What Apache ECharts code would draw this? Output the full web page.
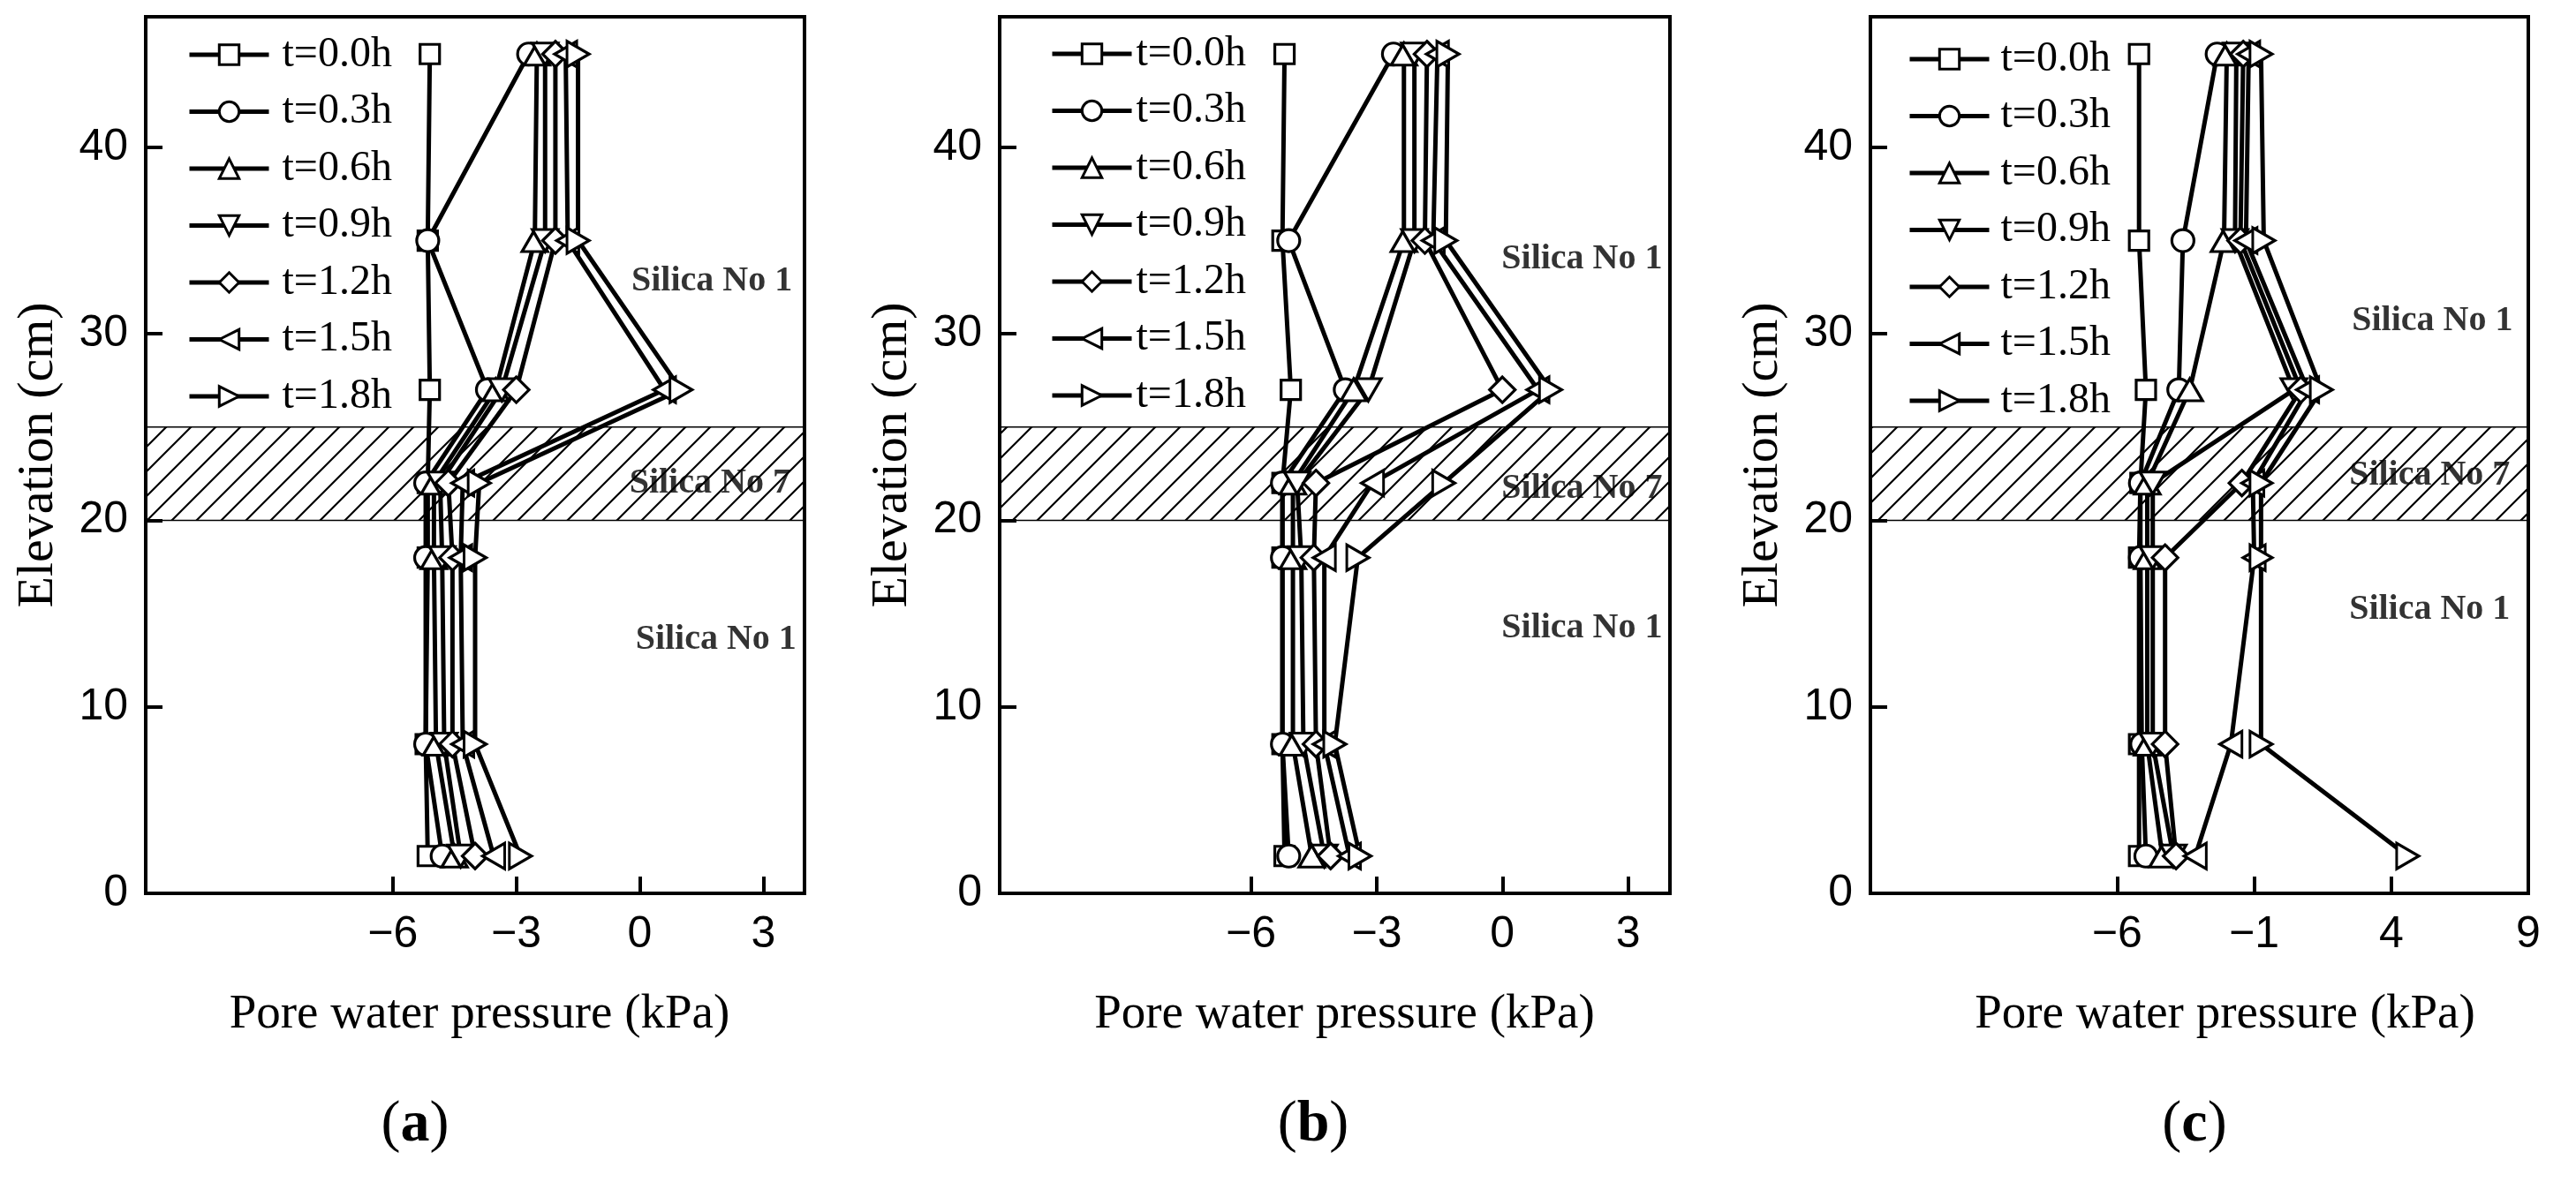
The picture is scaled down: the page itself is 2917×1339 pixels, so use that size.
<!DOCTYPE html>
<html>
<head>
<meta charset="utf-8">
<script src="https://cdn.jsdelivr.net/npm/echarts@6/dist/echarts.min.js"></script>
<style>html,body{margin:0;padding:0;background:#fff}#c{width:2917px;height:1339px}</style>
</head>
<body>
<div id="c"></div>
<script>
// ---------- DATA ----------
const elevations = [45, 35, 27, 22, 18, 8, 2];
const seriesNames = ['t=0.0h', 't=0.3h', 't=0.6h', 't=0.9h', 't=1.2h', 't=1.5h', 't=1.8h'];

// pore water pressure (kPa) at each elevation, one row per time
const pressureA = [
  [-5.1, -5.15, -5.1, -5.15, -5.15, -5.2, -5.15],
  [-2.7, -5.15, -3.7, -5.2, -5.2, -5.2, -4.8],
  [-2.5, -2.55, -3.5, -5.0, -5.0, -4.95, -4.5],
  [-2.3, -2.3, -3.35, -4.85, -4.8, -4.75, -4.35],
  [-2.05, -2.05, -3.0, -4.65, -4.55, -4.55, -4.0],
  [-1.8, -1.75, 0.6, -4.3, -4.35, -4.3, -3.55],
  [-1.5, -1.5, 1.0, -3.9, -4.0, -4.0, -2.9]
];
const pressureB = [
  [-5.2, -5.25, -5.05, -5.25, -5.25, -5.25, -5.2],
  [-2.6, -5.1, -3.75, -5.25, -5.25, -5.25, -5.1],
  [-2.35, -2.35, -3.55, -5.0, -5.0, -5.0, -4.55],
  [-2.1, -2.1, -3.2, -4.9, -4.8, -4.75, -4.25],
  [-1.8, -1.85, 0.0, -4.45, -4.5, -4.45, -4.1],
  [-1.55, -1.65, 0.85, -3.1, -4.25, -4.25, -3.65],
  [-1.3, -1.35, 1.15, -1.4, -3.45, -4.0, -3.4]
];
const pressureC = [
  [-5.2, -5.2, -4.95, -5.15, -5.2, -5.2, -5.2],
  [-2.35, -3.6, -3.75, -5.15, -5.15, -5.1, -4.95],
  [-2.0, -2.1, -3.35, -4.9, -4.9, -4.9, -4.35],
  [-1.65, -1.7, 0.45, -4.7, -4.7, -4.7, -3.95],
  [-1.4, -1.5, 0.7, -1.45, -4.25, -4.25, -3.85],
  [-1.2, -1.3, 0.95, -1.05, -1.0, -1.85, -3.15],
  [-0.75, -0.65, 1.45, -0.75, -0.75, -0.75, 4.6]
];

const xTicksAB = [-6, -3, 0, 3];
const xTicksC = [-6, -1, 4, 9];
const yTicks = [0, 10, 20, 30, 40];
const layerBand = [20, 25];           // Silica No 7 layer (cm)
const layerTexts = ['Silica No 1', 'Silica No 7', 'Silica No 1'];
const layerPosA = [[1.75, 32.8], [1.7, 22.0], [1.85, 13.6]];
const layerPosB = [[1.9, 34.0], [1.9, 21.7], [1.9, 14.2]];
const layerPosC = [[5.5, 30.7], [5.4, 22.4], [5.4, 15.2]];
const panelLetters = ['a', 'b', 'c'];

// ---------- STYLE ----------
const symbolDefs = [
  { symbol: 'rect', size: 22, rotate: 0 },
  { symbol: 'circle', size: 25, rotate: 0 },
  { symbol: 'triangle', size: [29, 25], rotate: 0 },
  { symbol: 'triangle', size: [29, 25], rotate: 180 },
  { symbol: 'diamond', size: 29, rotate: 0 },
  { symbol: 'triangle', size: [29, 25], rotate: 90 },
  { symbol: 'triangle', size: [29, 25], rotate: -90 }
];

function hatchPattern() {
  const s = 28;
  const cv = document.createElement('canvas');
  cv.width = s; cv.height = s;
  const ctx = cv.getContext('2d');
  ctx.strokeStyle = '#000';
  ctx.lineWidth = 2.2;
  ctx.beginPath();
  ctx.moveTo(-2, s + 2); ctx.lineTo(s + 2, -2);
  ctx.moveTo(-2, 2); ctx.lineTo(2, -2);
  ctx.moveTo(s - 2, s + 2); ctx.lineTo(s + 2, s - 2);
  ctx.stroke();
  return { image: cv, repeat: 'repeat' };
}
const pattern = hatchPattern();

const panels = [
  { data: pressureA, min: -12, max: 4, ticks: xTicksAB, pos: layerPosA, left: 165, width: 746,
    legendLeft: 207, legendTop: 33, textPad: 10, nameShift: 10, letterX: 470 },
  { data: pressureB, min: -12, max: 4, ticks: xTicksAB, pos: layerPosB, left: 1132, width: 759,
    legendLeft: 1184, legendTop: 32, textPad: 0, nameShift: 22, letterX: 1487 },
  { data: pressureC, min: -15, max: 9, ticks: xTicksC, pos: layerPosC, left: 2118, width: 745,
    legendLeft: 2155, legendTop: 38, textPad: 8, nameShift: 58, letterX: 2485 }
];

const grids = [], xAxes = [], yAxes = [], series = [], legends = [], graphics = [];
const minusFmt = v => (v < 0 ? '\u2212' + Math.abs(v) : String(v));

panels.forEach((p, i) => {
  grids.push({ left: p.left, top: 19, width: p.width, height: 993, show: true,
    borderColor: '#000', borderWidth: 4, backgroundColor: 'transparent' });
  xAxes.push({
    gridIndex: i, type: 'value', min: p.min, max: p.max,
    name: 'Pore water pressure (kPa)', nameLocation: 'middle', nameGap: 110,
    nameTextStyle: { fontFamily: 'Liberation Serif', fontSize: 55, color: '#000',
      padding: [0, 0, 0, p.nameShift] },
    axisLine: { show: true, onZero: false, lineStyle: { color: '#000', width: 4 } },
    axisTick: { show: true, inside: true, length: 19, customValues: p.ticks,
      lineStyle: { color: '#000', width: 4 } },
    axisLabel: { customValues: p.ticks, formatter: minusFmt, fontFamily: 'Liberation Sans',
      fontSize: 50, color: '#000', margin: 22 },
    splitLine: { show: false }
  });
  yAxes.push({
    gridIndex: i, type: 'value', min: 0, max: 47,
    name: 'Elevation (cm)', nameLocation: 'middle', nameGap: 92,
    nameTextStyle: { fontFamily: 'Liberation Serif', fontSize: 58, color: '#000' },
    axisLine: { show: true, onZero: false, lineStyle: { color: '#000', width: 4 } },
    axisTick: { show: true, inside: true, length: 19, customValues: yTicks,
      lineStyle: { color: '#000', width: 4 } },
    axisLabel: { customValues: yTicks, fontFamily: 'Liberation Sans', fontSize: 50,
      color: '#000', margin: 20 },
    splitLine: { show: false }
  });
  // layer band + layer labels
  series.push({
    type: 'scatter', name: 'layers' + i, xAxisIndex: i, yAxisIndex: i, z: 1, silent: true,
    symbolSize: 0.1,
    data: layerTexts.map((t, k) => ({ name: t, value: p.pos[k] })),
    label: { show: true, position: 'inside', formatter: '{b}', fontFamily: 'Liberation Serif',
      fontWeight: 'bold', fontSize: 40, color: '#000' },
    markArea: { silent: true, itemStyle: { color: pattern, borderColor: '#000', borderWidth: 1.5 },
      data: [[{ yAxis: layerBand[0] }, { yAxis: layerBand[1] }]] }
  });
  p.data.forEach((row, s) => {
    const sd = symbolDefs[s];
    series.push({
      type: 'line', name: seriesNames[s], xAxisIndex: i, yAxisIndex: i, z: 3,
      data: row.map((v, k) => [v, elevations[k]]),
      symbol: sd.symbol, symbolSize: sd.size, symbolRotate: sd.rotate, showAllSymbol: true,
      lineStyle: { color: '#000', width: 5 },
      itemStyle: { color: '#fff', borderColor: '#000', borderWidth: 3.2 },
      emphasis: { disabled: true }, clip: false
    });
  });
  legends.push({
    data: seriesNames, orient: 'vertical', left: p.legendLeft, top: p.legendTop,
    itemWidth: 90, itemHeight: 28, itemGap: 16.5, selectedMode: false,
    lineStyle: { width: 5, color: '#000' },
    itemStyle: { color: '#fff', borderColor: '#000', borderWidth: 3 },
    textStyle: { fontFamily: 'Liberation Serif', fontSize: 48, lineHeight: 48, color: '#000',
      padding: [0, 0, 0, p.textPad] }
  });
  graphics.push({
    type: 'text', x: p.letterX, y: 1275,
    style: { text: '{p|(}{b|' + panelLetters[i] + '}{p|)}', align: 'center', verticalAlign: 'middle',
      rich: { p: { fontFamily: 'Liberation Serif', fontSize: 66, fill: '#000' },
              b: { fontFamily: 'Liberation Serif', fontSize: 66, fontWeight: 'bold', fill: '#000' } } }
  });
});

const chart = echarts.init(document.getElementById('c'));
chart.setOption({
  animation: false,
  backgroundColor: '#fff',
  grid: grids, xAxis: xAxes, yAxis: yAxes, series: series, legend: legends, graphic: graphics
});
</script>
</body>
</html>
